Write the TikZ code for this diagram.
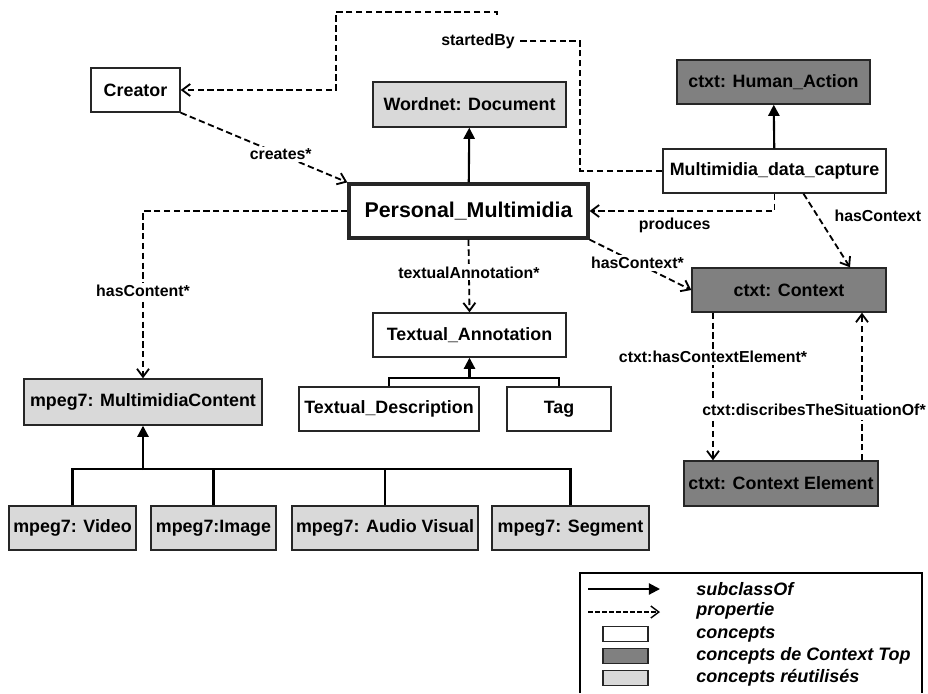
\documentclass[tikz,border=0pt]{standalone}
\usepackage{fontspec}
\setmainfont{Liberation Sans}
\usetikzlibrary{arrows.meta,calc}
\newcommand{\px}{0.025cm}

\begin{document}
\begin{tikzpicture}[
  x=\px, y=-\px,
  concept/.style={rectangle, draw=black!85, line width=1pt, fill=white, inner sep=0pt,
                  minimum height=44*\px, font=\fontsize{12.7}{15}\selectfont\bfseries},
  ctxtop/.style={concept, fill=black!50},
  reused/.style={concept, fill=black!15},
  subarrow/.style={line width=1.5pt, -{Triangle[length=2.8mm,width=2.8mm]}},
  prop/.style={line width=1.3pt, dash pattern=on 4.5pt off 2.5pt,
               -{Straight Barb[length=2mm,width=3mm]}},
  rel/.style={fill=white, inner sep=1.5pt, font=\fontsize{11.3}{13}\selectfont\bfseries},
  legtext/.style={anchor=west, inner sep=0pt, font=\fontsize{12.8}{15}\selectfont\bfseries\itshape},
]
\useasboundingbox (0,0) rectangle (928,693);

% ===== concepts =====
\node (creator) [concept, minimum width=89*\px] at (135.5,90) {Creator};
\node (wordnet) [reused, minimum width=193*\px, minimum height=45*\px] at (469.5,104.5) {Wordnet: Document};
\node (pm) [concept, minimum width=239*\px, minimum height=54*\px, line width=2.3pt,
            font=\fontsize{15.2}{18}\selectfont\bfseries] at (468.5,211) {Personal\_Multimidia};
\node (human) [ctxtop, minimum width=193*\px] at (773.5,82) {ctxt: Human\_Action};
\node (capture) [concept, minimum width=223*\px] at (774.5,171) {Multimidia\_data\_capture};
\node (context) [ctxtop, minimum width=194*\px] at (789,290) {ctxt: Context};
\node (textann) [concept, minimum width=193*\px] at (469.5,335) {Textual\_Annotation};
\node (textdesc) [concept, minimum width=180*\px] at (389,409) {Textual\_Description};
\node (tag) [concept, minimum width=104*\px] at (559,409) {Tag};
\node (mmcontent) [reused, minimum width=238*\px, minimum height=46*\px] at (143,402) {mpeg7: MultimidiaContent};
\node (ctxelem) [ctxtop, minimum width=194*\px, minimum height=45*\px] at (781,483.5) {ctxt: Context Element};
\node (video) [reused, minimum width=127*\px] at (72.5,528) {mpeg7: Video};
\node (image) [reused, minimum width=125*\px] at (213.5,528) {mpeg7:Image};
\node (audiovis) [reused, minimum width=186*\px] at (385,528) {mpeg7: Audio Visual};
\node (segment) [reused, minimum width=157*\px] at (570.5,528) {mpeg7: Segment};

% ===== subclassOf =====
\draw[subarrow] (pm) -- (wordnet);
\draw[subarrow] (capture) -- (human);
\draw[line width=1.5pt] (textdesc.north) -- ++(0,-8) -| (tag.north);
\draw[subarrow] (textann.south |- 0,379) -- (textann.south);
\draw[line width=1.5pt] (video.north) -- ++(0,-36) -| (segment.north);
\draw[line width=1.5pt] (image.north) -- ++(0,-36);
\draw[line width=1.5pt] (audiovis.north) -- ++(0,-36);
\draw[subarrow] (mmcontent.south |- 0,470) -- (mmcontent.south);

% ===== properties =====
\node (startedby) [rel] at (478,41) {startedBy};
\coordinate (sbA) at (580,41);
\coordinate (sbB) at (497,15);
\coordinate (sbC) at (336,12);
\draw[prop, -] (capture.west) -| (sbA) -- (startedby.east);
\draw[prop] (sbB) |- (sbC) |- (creator.east);

\draw[prop] (creator.south east) -- node[rel, pos=0.6] {creates*} (pm.north west);
\draw[prop] (pm.west) -| node[rel, pos=0.74] {hasContent*} (mmcontent.north);
\draw[prop] (pm.south) -- node[rel, pos=0.45] {textualAnnotation*} (textann.north);
\draw[prop] (capture.south) |- node[rel, pos=0.77, below=2.5pt] {produces} (pm.east);
\draw[prop] ($(capture.south)+(29,0)$) -- node[rel, pos=0.3, right=10pt] {hasContext} ($(context.north)+(61,0)$);
\draw[prop] (pm.south east) -- node[rel, pos=0.47] {hasContext*} (context.west);

\coordinate (ceL) at (713,0);
\coordinate (ceR) at (862,0);
\draw[prop] (context.south -| ceL) -- node[rel, pos=0.3] {ctxt:hasContextElement*} (ctxelem.north -| ceL);
\draw[prop] (ctxelem.north -| ceR) -- node[rel, pos=0.342, xshift=-48*\px, inner ysep=3pt] {ctxt:discribesTheSituationOf*} (context.south -| ceR);

% ===== legend =====
\draw[line width=1.2pt] (580,693) |- (922,573) -- (922,693);
\coordinate (lgA) at (588,589);
\coordinate (lgB) at (660,589);
\coordinate (lgC) at (588,612);
\coordinate (lgD) at (660,612);
\draw[subarrow] (lgA) -- (lgB);
\draw[prop, line width=1pt, dash pattern=on 3.5pt off 1.5pt] (lgC) -- (lgD);
\node (swconcept) [concept, minimum width=45*\px, minimum height=15*\px] at (625.5,634) {};
\node (swtop) [ctxtop, minimum width=45*\px, minimum height=15*\px] at (625.5,656) {};
\node (swreused) [reused, minimum width=45*\px, minimum height=15*\px] at (625.5,678) {};
\node (lgsub) [legtext] at (696,589) {subclassOf};
\node (lgprop) [legtext] at (696,611) {propertie};
\node (lgconcept) [legtext] at (696,634) {concepts};
\node (lgtop) [legtext] at (696,656) {concepts de Context Top};
\node (lgreused) [legtext] at (696,678) {concepts réutilisés};
\end{tikzpicture}
\end{document}
